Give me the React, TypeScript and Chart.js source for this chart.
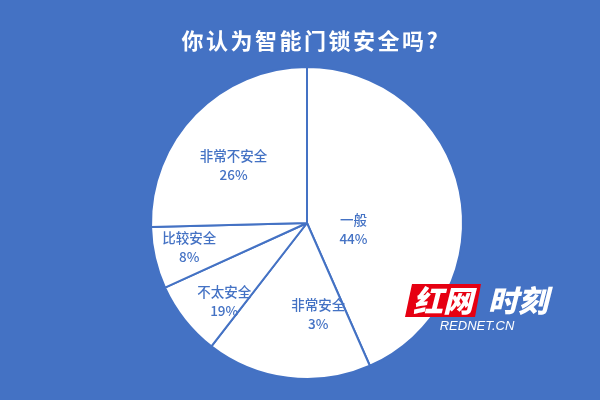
import { useEffect, useRef } from "react";
import { Chart, ArcElement, PieController } from "chart.js";

Chart.register(ArcElement, PieController);

// ---- data ----
const titleText = "你认为智能门锁安全吗?";
const categories = ["一般", "非常安全", "不太安全", "比较安全", "非常不安全"];
// slice sizes as drawn in the picture (% of the circle)
const sliceShares = [43.4, 17.1, 7.7, 6.4, 25.4];
// percent labels as printed in the picture
const percentLabels = ["44%", "3%", "19%", "8%", "26%"];

// ---- styling / layout ----
const BLUE = "#4472C4";
// label placement relative to each slice: radius fraction, angle shift (deg)
const labelRadius = [0.3, 0.59, 0.73, 0.77, 0.6];
const labelAngleShift = [19, -14, -5, 1.5, -6];

const bgPlugin = {
  id: "bg",
  beforeDraw(chart: any) {
    const { ctx, width, height } = chart;
    ctx.save();
    ctx.fillStyle = BLUE;
    ctx.fillRect(0, 0, width, height);
    ctx.restore();
  },
};

const overlayPlugin = {
  id: "overlay",
  afterDraw(chart: any) {
    const { ctx, width } = chart;
    ctx.save();
    // title
    ctx.fillStyle = "#ffffff";
    ctx.font = 'bold 22px "Noto Sans CJK SC", sans-serif';
    ctx.textAlign = "center";
    ctx.textBaseline = "middle";
    (ctx as any).letterSpacing = "2.5px";
    ctx.fillText(titleText, width / 2 + 11, 41);
    (ctx as any).letterSpacing = "0px";

    // slice labels
    const meta = chart.getDatasetMeta(0);
    ctx.fillStyle = BLUE;
    ctx.font = '500 13.5px "Noto Sans CJK SC", sans-serif';
    meta.data.forEach((arc: any, i: number) => {
      const p = arc.getProps(["x", "y", "startAngle", "endAngle", "outerRadius"], true);
      const a = (p.startAngle + p.endAngle) / 2 + (labelAngleShift[i] * Math.PI) / 180;
      const r = p.outerRadius * labelRadius[i];
      const cx = p.x + Math.cos(a) * r;
      const cy = p.y + Math.sin(a) * r;
      ctx.fillText(categories[i], cx, cy - 9);
      ctx.fillText(percentLabels[i], cx, cy + 10);
    });

    // watermark
    ctx.fillStyle = "#e60012";
    ctx.beginPath();
    ctx.moveTo(412, 284);
    ctx.lineTo(481, 284);
    ctx.lineTo(475, 317);
    ctx.lineTo(405, 317);
    ctx.closePath();
    ctx.fill();
    ctx.fillStyle = "#ffffff";
    ctx.font = 'italic 900 30px "Noto Sans CJK SC", sans-serif';
    ctx.fillText("红网", 443, 301);
    ctx.fillText("时刻", 518, 301);
    ctx.font = 'italic 13px "Liberation Sans", Arial, sans-serif';
    ctx.fillText("REDNET.CN", 477, 326);
    ctx.restore();
  },
};

export default function App() {
  const ref = useRef<HTMLCanvasElement>(null);
  useEffect(() => {
    document.body.style.margin = "0";
    const chart = new Chart(ref.current!, {
      type: "pie",
      data: {
        labels: categories,
        datasets: [
          {
            data: sliceShares,
            backgroundColor: "#ffffff",
            borderColor: BLUE,
            borderWidth: 2,
            hoverOffset: 0,
          },
        ],
      },
      options: {
        animation: false,
        responsive: false,
        events: [],
        layout: { padding: { left: 150, right: 136, top: 66, bottom: 20 } },
        plugins: {
          legend: { display: false },
          tooltip: { enabled: false },
          title: { display: false },
        },
      },
      plugins: [bgPlugin, overlayPlugin],
    });
    return () => chart.destroy();
  }, []);
  return (
    <div style={{ width: 600, height: 400, background: BLUE }}>
      <canvas ref={ref} width={600} height={400} />
    </div>
  );
}
